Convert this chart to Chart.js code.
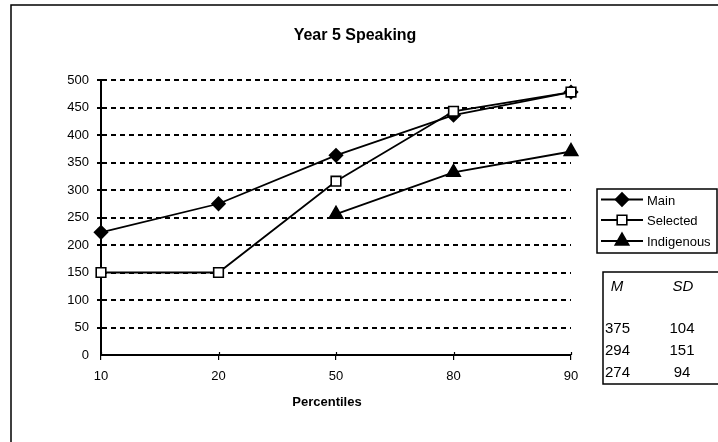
<!DOCTYPE html>
<html>
<head>
<meta charset="utf-8">
<script src="https://cdn.jsdelivr.net/npm/chart.js@4/dist/chart.umd.min.js"></script>
<style>
  html, body { margin: 0; padding: 0; background: #fff; }
  #wrap { width: 718px; height: 442px; position: relative; }
</style>
</head>
<body>
<div id="wrap"><canvas id="c" width="718" height="442"></canvas></div>
<script>
// Percentile categories on the x axis
const percentiles = ['10', '20', '50', '80', '90'];
// Scores per series at each percentile
const mainScores = [223, 275, 363, 436, 478];
const selectedScores = [150, 150, 316, 443, 478];
const indigenousScores = [null, null, 256, 332, 370];
const seriesNames = ['Main', 'Selected', 'Indigenous'];
// Summary table: mean and standard deviation per series
const meanScores = [375, 294, 274];
const sdScores = [104, 151, 94];

const FONT = 'Liberation Sans, Arial, sans-serif';

// Frame, title, axis title, crossing x ticks, legend and summary table
const decorations = {
  id: 'decorations',
  afterDraw(chart) {
    const ctx = chart.ctx;
    const xs = chart.scales.x;
    const area = chart.chartArea;
    ctx.save();

    // outer frame
    ctx.strokeStyle = '#000';
    ctx.lineWidth = 1.5;
    ctx.strokeRect(11, 5, 740, 460);

    // upper half of the x tick marks
    ctx.lineWidth = 1.2;
    xs.ticks.forEach((t, i) => {
      const x = Math.round(xs.getPixelForTick(i)) + 0.5;
      ctx.beginPath();
      ctx.moveTo(x, area.bottom - 3);
      ctx.lineTo(x, area.bottom);
      ctx.stroke();
    });

    // title
    ctx.fillStyle = '#000';
    ctx.textBaseline = 'middle';
    ctx.textAlign = 'center';
    ctx.font = 'bold 16px ' + FONT;
    ctx.fillText('Year 5 Speaking', 355, 36);

    // x axis title
    ctx.font = 'bold 13px ' + FONT;
    ctx.fillText('Percentiles', 327, 402);

    // legend
    ctx.lineWidth = 1.5;
    ctx.strokeRect(597, 189, 120, 64);
    const rowsY = [199.5, 220, 241];
    chart.data.datasets.forEach((ds, i) => {
      const y = rowsY[i];
      ctx.strokeStyle = '#000';
      ctx.lineWidth = 1.8;
      ctx.beginPath();
      ctx.moveTo(601, y);
      ctx.lineTo(643, y);
      ctx.stroke();
      ctx.fillStyle = ds.pointBackgroundColor;
      ctx.strokeStyle = '#000';
      ctx.lineWidth = ds.pointBorderWidth;
      Chart.helpers.drawPoint(ctx, {
        pointStyle: ds.pointStyle,
        radius: ds.pointRadius,
        rotation: 0,
        borderWidth: ds.pointBorderWidth
      }, 622, y);
      ctx.fillStyle = '#000';
      ctx.font = '13px ' + FONT;
      ctx.textAlign = 'left';
      ctx.textBaseline = 'middle';
      ctx.fillText(ds.label, 647, y + 1.5);
    });

    // summary table
    ctx.strokeStyle = '#000';
    ctx.lineWidth = 1.5;
    ctx.strokeRect(603, 272, 140, 112);
    ctx.font = 'italic 15px ' + FONT;
    ctx.textAlign = 'center';
    ctx.fillText('M', 617, 287);
    ctx.fillText('SD', 683, 287);
    ctx.font = '15px ' + FONT;
    const tableY = [329, 350.5, 372.5];
    meanScores.forEach((m, i) => {
      ctx.textAlign = 'left';
      ctx.fillText(String(m), 605, tableY[i]);
      ctx.textAlign = 'center';
      ctx.fillText(String(sdScores[i]), 682, tableY[i]);
    });

    ctx.restore();
  }
};

const seriesStyles = [
  { style: 'rectRot', radius: 6.5, fill: '#000', order: 1 },
  { style: 'rect', radius: 6.8, fill: '#fff', order: 0 },
  { style: 'triangle', radius: 7.8, fill: '#000', order: 2 }
];
const seriesData = [mainScores, selectedScores, indigenousScores];

new Chart(document.getElementById('c'), {
  type: 'line',
  data: {
    labels: percentiles,
    datasets: seriesNames.map((name, i) => ({
      label: name,
      data: seriesData[i],
      order: seriesStyles[i].order,
      borderColor: '#000',
      borderWidth: 1.8,
      backgroundColor: seriesStyles[i].fill,
      pointStyle: seriesStyles[i].style,
      pointRadius: seriesStyles[i].radius,
      pointBackgroundColor: seriesStyles[i].fill,
      pointBorderColor: '#000',
      pointBorderWidth: 1.6,
      tension: 0,
      spanGaps: false,
      fill: false
    }))
  },
  options: {
    responsive: false,
    animation: false,
    events: [],
    layout: { autoPadding: false, padding: { left: 0, top: 80, right: 147, bottom: 0 } },
    plugins: { legend: { display: false }, title: { display: false }, tooltip: { enabled: false } },
    scales: {
      x: {
        type: 'category',
        offset: false,
        afterFit(s) { s.height = 87; },
        grid: { display: true, drawOnChartArea: false, drawTicks: true, tickLength: 5, color: '#000', lineWidth: 1.2 },
        border: { display: true, color: '#000', width: 2 },
        ticks: { color: '#000', font: { family: FONT, size: 13 }, padding: 9, maxRotation: 0, autoSkip: false }
      },
      y: {
        min: 0,
        max: 500,
        afterFit(s) { s.width = 101; },
        grid: {
          color: (c) => (c.tick && c.tick.value === 0 ? 'rgba(0,0,0,0)' : '#000'),
          lineWidth: 2,
          tickLength: 4,
          drawTicks: true
        },
        border: { display: true, color: '#000', width: 2, dash: [5, 4] },
        ticks: { stepSize: 50, color: '#000', font: { family: FONT, size: 13 }, padding: 8 }
      }
    }
  },
  plugins: [decorations]
});
</script>
</body>
</html>
